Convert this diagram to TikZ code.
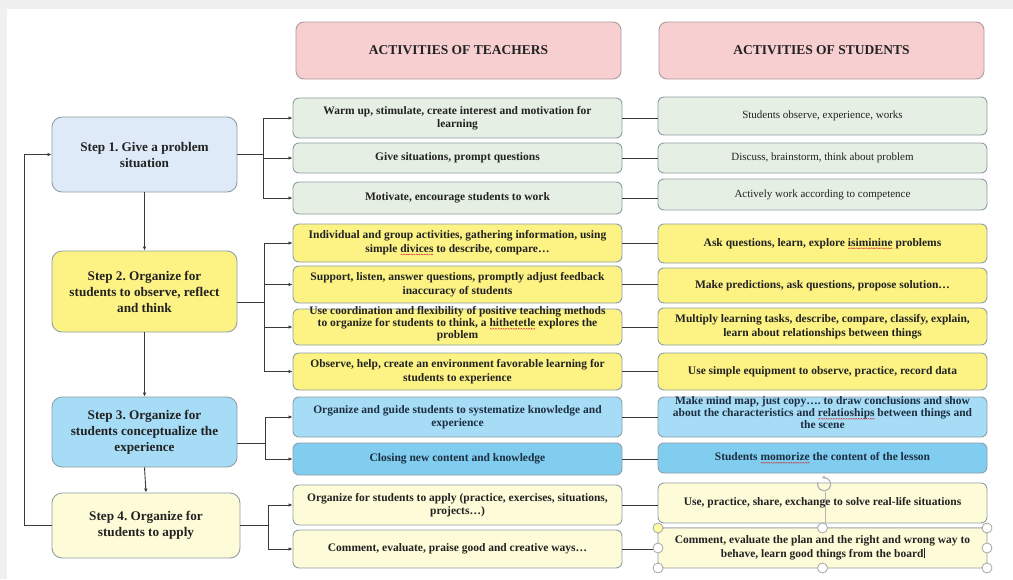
\documentclass[tikz,border=0pt]{standalone}
\usepackage{fontspec}
\setmainfont{Liberation Serif}
\usetikzlibrary{arrows.meta,calc}
\frenchspacing
\newsavebox\wavebox
\newsavebox\wordbox
\newcommand\redwave[1]{\leavevmode\sbox\wordbox{#1}\rlap{\raisebox{-2.8pt}{\hbox to \wd\wordbox{\xleaders\copy\wavebox\hfil}}}\usebox\wordbox}
\definecolor{hdrfill}{HTML}{F8CFD0}
\definecolor{hdrdraw}{HTML}{B09A9B}
\definecolor{s1fill}{HTML}{DFEAF8}
\definecolor{grfill}{HTML}{E6EFE3}
\definecolor{yefill}{HTML}{FCF384}
\definecolor{blfill}{HTML}{A6DCF5}
\definecolor{bldeep}{HTML}{80CDF0}
\definecolor{crfill}{HTML}{FDFBD8}
\definecolor{bdr}{HTML}{8F9FA6}
\definecolor{txt}{HTML}{222222}
\definecolor{bltxt}{HTML}{1C2E40}
\definecolor{ln}{HTML}{3A3A3A}
\definecolor{wavered}{HTML}{D03030}
\tikzset{
  base/.style={draw=bdr, line width=0.9pt, rounded corners=6pt, align=center, inner sep=1pt, text=txt, font=\bfseries\fontsize{11.5}{13.5}\selectfont},
  hdr/.style={base, fill=hdrfill, draw=hdrdraw, minimum width=325pt, minimum height=57pt, rounded corners=8pt, font=\bfseries\fontsize{13.5}{15}\selectfont},
  stepbox/.style={base, minimum width=185pt, rounded corners=10pt, font=\bfseries\fontsize{13.2}{16}\selectfont},
  tbox/.style={base, minimum width=329pt},
  sbox/.style={base, minimum width=329pt},
  sreg/.style={sbox, font=\fontsize{11}{13}\selectfont},
  arr/.style={draw=ln, line width=0.9pt, -{Latex[length=4pt,width=3.5pt]}},
  con/.style={draw=ln, line width=0.9pt},
  handle/.style={draw=gray!70, fill=white, line width=0.8pt},
}
\begin{document}
\sbox\wavebox{\begin{pgfpicture}\pgfpathmoveto{\pgfpoint{0pt}{0pt}}\pgfpathlineto{\pgfpoint{1pt}{0.9pt}}\pgfpathlineto{\pgfpoint{2pt}{0pt}}\pgfsetlinewidth{0.45pt}\pgfsetstrokecolor{wavered}\pgfusepath{stroke}\end{pgfpicture}}%
\begin{tikzpicture}[x=1pt,y=-1pt]
\useasboundingbox (0,0) rectangle (1013,579);
\fill[gray!12] (0,0) rectangle (1013,579);
\fill[white] (7,9) rectangle (1013,579);

% headers
\node[hdr] (ht) at (458.5,50.5) {ACTIVITIES OF TEACHERS};
\node[hdr] (hs) at (821.5,50.5) {ACTIVITIES OF STUDENTS};

% steps
\node[stepbox, fill=s1fill, minimum height=75pt] (s1) at (144.5,154.5) {Step 1. Give a problem\\ situation};
\node[stepbox, fill=yefill, minimum height=81pt] (s2) at (144.5,291.5) {Step 2. Organize for\\ students to observe, reflect\\ and think};
\node[stepbox, fill=blfill, minimum height=70pt] (s3) at (144.5,432) {Step 3. Organize for\\ students conceptualize the\\ experience};
\node[stepbox, fill=crfill, minimum height=65pt, minimum width=188pt] (s4) at (146,525.5) {Step 4. Organize for\\ students to apply};

% teacher boxes
\node[tbox, fill=grfill, minimum height=40pt] (t1) at (457.5,118) {Warm up, stimulate, create interest and motivation for\\ learning};
\node[tbox, fill=grfill, minimum height=30pt] (t2) at (457.5,158) {Give situations, prompt questions};
\node[tbox, fill=grfill, minimum height=32pt] (t3) at (457.5,198) {Motivate, encourage students to work};
\node[tbox, fill=yefill, minimum height=38pt] (t4) at (457.5,243) {Individual and group activities, gathering information, using\\ simple \redwave{divices} to describe, compare\ldots};
\node[tbox, fill=yefill, minimum height=37pt] (t5) at (457.5,284.5) {Support, listen, answer questions, promptly adjust feedback\\ inaccuracy of students};
\node[tbox, fill=yefill, minimum height=36pt] (t6) at (457.5,327) {\raisebox{0pt}[0pt][0pt]{\begin{tabular}{@{}c@{}}Use coordination and flexibility of positive teaching methods\\[-1.5pt] to organize for students to think, a \redwave{hithetetle} explores the\\[-1.5pt] problem\end{tabular}}};
\node[tbox, fill=yefill, minimum height=37pt] (t7) at (457.5,371.5) {Observe, help, create an environment favorable learning for\\ students to experience};
\node[tbox, fill=blfill, minimum height=40pt, text=bltxt] (t8) at (457.5,417) {Organize and guide students to systematize knowledge and\\ experience};
\node[tbox, fill=bldeep, minimum height=32pt, text=bltxt] (t9) at (457.5,459) {Closing new content and knowledge};
\node[tbox, fill=crfill, minimum height=40pt] (t10) at (457.5,505) {Organize for students to apply (practice, exercises, situations,\\ projects\ldots)};
\node[tbox, fill=crfill, minimum height=38pt] (t11) at (457.5,549) {Comment, evaluate, praise good and creative ways\ldots};

% student boxes
\node[sreg, fill=grfill, minimum height=38pt] (u1) at (822.5,116) {Students observe, experience, works};
\node[sreg, fill=grfill, minimum height=30pt] (u2) at (822.5,158) {Discuss, brainstorm, think about problem};
\node[sreg, fill=grfill, minimum height=31pt] (u3) at (822.5,194.5) {Actively work according to competence};
\node[sbox, fill=yefill, minimum height=39pt] (u4) at (822.5,243.5) {Ask questions, learn, explore \redwave{isiminine} problems};
\node[sbox, fill=yefill, minimum height=35pt] (u5) at (822.5,285.5) {Make predictions, ask questions, propose solution\ldots};
\node[sbox, fill=yefill, minimum height=37pt] (u6) at (822.5,326.5) {Multiply learning tasks, describe, compare, classify, explain,\\ learn about relationships between things};
\node[sbox, fill=yefill, minimum height=37pt] (u7) at (822.5,371.5) {Use simple equipment to observe, practice, record data};
\node[sbox, fill=blfill, minimum height=40pt, text=bltxt] (u8) at (822.5,417) {\raisebox{0pt}[0pt][0pt]{\begin{tabular}{@{}c@{}}Make mind map, just copy\ldots. to draw conclusions and show\\[-1.5pt] about the characteristics and \redwave{relatioships} between things and\\[-1.5pt] the scene\end{tabular}}};
\node[sbox, fill=bldeep, minimum height=30pt, text=bltxt] (u9) at (822.5,458) {Students \redwave{momorize} the content of the lesson};
\node[sbox, fill=crfill, minimum height=40pt] (u10) at (822.5,503) {Use, practice, share, exchange to solve real-life situations};
\node[sbox, fill=crfill, minimum height=40pt] (u11) at (822.5,548) {Comment, evaluate the plan and the right and wrong way to\\ behave, learn good things from the board\rule[-1pt]{0.6pt}{10pt}};

% vertical flow
\draw[arr] (s1.south) -- (s2.north);
\draw[arr] (s2.south) -- (s3.north);
\draw[arr] (s3.south) -- (s4.north);
\draw[arr] (s4.west) -- ++(-27,0) |- (s1.west);

% branch buses
\coordinate (b1) at (263,0);
\coordinate (b2) at (264,0);
\coordinate (b3) at (265,0);
\coordinate (b4) at (268,0);
\coordinate (p2) at ($(s2.east)+(0,11)$);
\coordinate (p3) at ($(s3.east)+(0,11)$);
\foreach \t in {t1,t2,t3} \draw[arr] (s1.east) -- (b1 |- s1.east) |- (\t.west);
\foreach \t in {t4,t5,t6,t7} \draw[arr] (p2) -- (b2 |- p2) |- (\t.west);
\foreach \t in {t8,t9} \draw[arr] (p3) -- (b3 |- p3) |- (\t.west);
\foreach \t in {t10,t11} \draw[arr] (s4.east) -- (b4 |- s4.east) |- (\t.west);

% teacher -> student
\foreach \a/\b in {t1/u1,t2/u2,t3/u3,t4/u4,t5/u5,t6/u6,t7/u7,t8/u8,t9/u9,t10/u10,t11/u11}
  \draw[con] (\a.east) -- (\a.east -| \b.west);

% editor selection handles
\draw[gray!60, line width=0.6pt] (825,492) -- (825,528);
\draw[gray!60, line width=1.2pt, -{Latex[length=3pt,width=4pt]}] (818,482) arc (200:-110:6.5);
\draw[gray!55, densely dotted, line width=0.6pt] (658,527) -- (987,527);
\foreach \p in {(822.5,528),(987,528),(658,548),(987,548),(658,568),(822.5,568),(987,568)}
  \draw[handle] \p circle (5);
\draw[handle, fill=yellow!35] (658,528) circle (5);
\end{tikzpicture}
\end{document}
